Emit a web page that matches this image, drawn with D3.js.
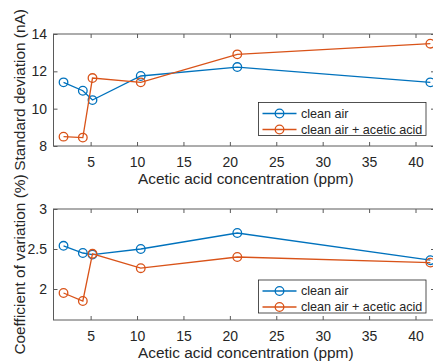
<!DOCTYPE html>
<html>
<head>
<meta charset="utf-8">
<script src="https://cdn.jsdelivr.net/npm/d3@7"></script>
<style>
  html, body { margin: 0; padding: 0; background: #fff; }
  svg { display: block; }
  text { font-family: "Liberation Sans", Arial, sans-serif; fill: #262626; }
</style>
</head>
<body>
<svg id="chart" width="433" height="364"></svg>
<script>
// Acetic acid concentrations (ppm)
const concentrations = [2.08, 4.16, 5.2, 10.4, 20.8, 41.6];

// Standard deviation (nA)
const sdCleanAir = [11.41, 10.96, 10.46, 11.75, 12.23, 11.41];
const sdAcetic   = [8.50, 8.45, 11.64, 11.41, 12.91, 13.48];

// Coefficient of variation (%)
const cvCleanAir = [2.54, 2.45, 2.43, 2.50, 2.70, 2.36];
const cvAcetic   = [1.95, 1.85, 2.44, 2.26, 2.40, 2.33];

const xTicks = [5, 10, 15, 20, 25, 30, 35, 40];
const sdTicks = [8, 10, 12, 14];
const cvTicks = [2, 2.5, 3];

const seriesNames = ["clean air", "clean air + acetic acid"];
const colors = ["#0072BD", "#D95319"];

const svg = d3.select("#chart");
const axisColor = "#5a5a5a";
const left = 53.5, right = 435;

const x = d3.scaleLinear().domain([1, 42.1]).range([left, right]);

function panel(cfg) {
  const y = d3.scaleLinear().domain(cfg.yDomain).range([cfg.bottom, cfg.top]);
  const g = svg.append("g");

  // axes box
  g.append("rect")
    .attr("x", left).attr("y", cfg.top)
    .attr("width", right - left).attr("height", cfg.bottom - cfg.top)
    .attr("fill", "none").attr("stroke", axisColor).attr("stroke-width", 1);

  const tl = 4;
  // x ticks point inward, on bottom and top edges
  const xa = g.append("g").attr("transform", `translate(0,${cfg.bottom})`)
    .call(d3.axisBottom(x).tickValues(xTicks).tickSizeInner(-tl).tickSizeOuter(0).tickPadding(11).tickFormat(d3.format("d")));
  xa.select(".domain").remove();
  xa.selectAll("line").attr("stroke", axisColor);
  xa.selectAll("text").attr("font-size", 14).attr("fill", "#262626");
  const xt = g.append("g").attr("transform", `translate(0,${cfg.top})`)
    .call(d3.axisTop(x).tickValues(xTicks).tickSizeInner(-tl).tickSizeOuter(0).tickFormat(""));
  xt.select(".domain").remove();
  xt.selectAll("line").attr("stroke", axisColor);

  // y ticks point inward, on left and right edges
  const ya = g.append("g").attr("transform", `translate(${left},0)`)
    .call(d3.axisLeft(y).tickValues(cfg.yTicks).tickSizeInner(-tl).tickSizeOuter(0).tickPadding(6.5).tickFormat(d => String(d)));
  ya.select(".domain").remove();
  ya.selectAll("line").attr("stroke", axisColor);
  ya.selectAll("text").attr("font-size", 14).attr("fill", "#262626");
  const yr = g.append("g").attr("transform", `translate(${right},0)`)
    .call(d3.axisRight(y).tickValues(cfg.yTicks).tickSizeInner(-tl).tickSizeOuter(0).tickFormat(""));
  yr.select(".domain").remove();
  yr.selectAll("line").attr("stroke", axisColor);

  // axis titles
  g.append("text")
    .attr("x", (left + right) / 2 + 1.5).attr("y", cfg.bottom + 38)
    .attr("text-anchor", "middle").attr("font-size", 15.4)
    .text("Acetic acid concentration (ppm)");
  g.append("text")
    .attr("transform", `translate(24.5,${(cfg.top + cfg.bottom) / 2}) rotate(-90)`)
    .attr("text-anchor", "middle").attr("font-size", 15.4)
    .text(cfg.yLabel);

  // data series: lines with open circle markers
  const line = d3.line().x((d, i) => x(concentrations[i])).y(d => y(d));
  cfg.series.forEach((vals, s) => {
    g.append("path").datum(vals)
      .attr("d", line).attr("fill", "none")
      .attr("stroke", colors[s]).attr("stroke-width", 1.3);
    g.selectAll(null).data(vals).enter().append("circle")
      .attr("cx", (d, i) => x(concentrations[i])).attr("cy", d => y(d))
      .attr("r", 4.3).attr("fill", "none")
      .attr("stroke", colors[s]).attr("stroke-width", 1.3);
  });

  // legend
  const lg = g.append("g").attr("transform", `translate(258.5,${cfg.legendTop})`);
  lg.append("rect").attr("width", 167.5).attr("height", 33)
    .attr("fill", "#fff").attr("stroke", "#262626").attr("stroke-width", 0.8);
  seriesNames.forEach((name, s) => {
    const yy = 11 + s * 16;
    lg.append("line").attr("x1", 4).attr("x2", 38).attr("y1", yy).attr("y2", yy)
      .attr("stroke", colors[s]).attr("stroke-width", 1.3);
    lg.append("circle").attr("cx", 21).attr("cy", yy).attr("r", 4.3)
      .attr("fill", "none").attr("stroke", colors[s]).attr("stroke-width", 1.3);
    lg.append("text").attr("x", 42.4).attr("y", yy).attr("dy", "0.35em")
      .attr("font-size", 12.6).text(name);
  });
}

panel({
  top: 34, bottom: 146, yDomain: [8, 14], yTicks: sdTicks,
  yLabel: "Standard deviation (nA)",
  series: [sdCleanAir, sdAcetic], legendTop: 102.5
});
panel({
  top: 209, bottom: 320, yDomain: [1.6125, 3], yTicks: cvTicks,
  yLabel: "Coefficient of variation (%)",
  series: [cvCleanAir, cvAcetic], legendTop: 280
});
</script>
</body>
</html>
